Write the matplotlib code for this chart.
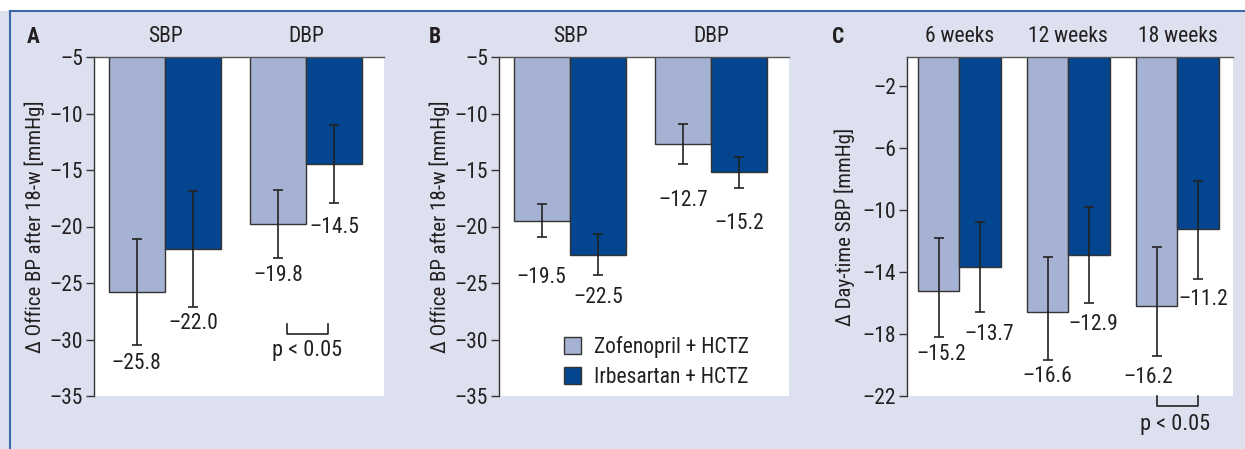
import numpy as np
import matplotlib
matplotlib.use('Agg')
import matplotlib.pyplot as plt
from matplotlib.lines import Line2D
from matplotlib.patches import Patch

plt.rcParams['font.family'] = ['Roboto Condensed', 'DejaVu Sans']

# panel A - office BP after 18 weeks
a_groups = ['SBP', 'DBP']
a_zof = [-25.8, -19.8]
a_irb = [-22.0, -14.5]
a_zof_err = [4.7, 3.0]
a_irb_err = [5.1, 3.45]

# panel B
b_groups = ['SBP', 'DBP']
b_zof = [-19.5, -12.7]
b_irb = [-22.5, -15.2]
b_zof_err = [1.45, 1.8]
b_irb_err = [1.8, 1.35]

# panel C - day-time SBP
c_groups = ['6 weeks', '12 weeks', '18 weeks']
c_zof = [-15.2, -16.6, -16.2]
c_irb = [-13.7, -12.9, -11.2]
c_zof_lo = [3.0, 3.05, 3.25]
c_zof_hi = [3.4, 3.6, 3.8]
c_irb_lo = [2.9, 3.1, 3.25]
c_irb_hi = [2.9, 3.1, 3.1]

series = ['Zofenopril + HCTZ', 'Irbesartan + HCTZ']

LIGHT = '#A6B2D4'
DARK = '#03468F'
BG = '#DDE1EF'
TXT = '#231F20'
FS = 15.5
MINUS = '\u2013'

fig = plt.figure(figsize=(12.45, 4.49), dpi=100)
fig.patch.set_facecolor(BG)
# white strip on top and the blue frame lines
fig.patches.append(plt.Rectangle((0, 449 - 11), 1245, 11, transform=None,
                                 facecolor='white', edgecolor='none', zorder=0))
fig.lines.append(Line2D([10, 1245], [449 - 11, 449 - 11], transform=None, color='#3A6AA8', lw=1.5))
fig.lines.append(Line2D([10, 10], [0, 449 - 11], transform=None, color='#3A6AA8', lw=1.5))


def px(x0, x1):
    return [x0 / 1245, 53 / 449, (x1 - x0) / 1245, 339 / 449]


def style(ax, ylim, ticks):
    ax.set_ylim(*ylim)
    ax.set_yticks(ticks)
    ax.set_yticklabels([(MINUS + '%g' % abs(t)) if t < 0 else '%g' % t for t in ticks])
    for s in ['right', 'bottom']:
        ax.spines[s].set_visible(False)
    ax.spines['left'].set_color('#333333')
    ax.spines['top'].set_color('#555555')
    ax.spines['left'].set_linewidth(1.0)
    ax.spines['top'].set_linewidth(1.0)
    ax.tick_params(axis='y', direction='out', length=6, width=1, color='#333333',
                   labelsize=FS, labelcolor=TXT, pad=2)
    ax.tick_params(axis='x', which='both', bottom=False, labelbottom=False)


def fmt(v):
    return MINUS + '%.1f' % abs(v)


def bars(ax, x, zof, irb, w, zerr, ierr):
    ax.bar(x - w / 2, zof, w, color=LIGHT, edgecolor='#333333', linewidth=1.0, zorder=2)
    ax.bar(x + w / 2, irb, w, color=DARK, edgecolor='#333333', linewidth=1.0, zorder=2)
    ekw = dict(fmt='none', ecolor='#222222', elinewidth=1.2, capsize=3.6, capthick=1.2, zorder=3)
    ax.errorbar(x - w / 2, zof, yerr=zerr, **ekw)
    ax.errorbar(x + w / 2, irb, yerr=ierr, **ekw)


# ---- A
axA = fig.add_axes(px(94, 384))
x = np.arange(len(a_groups))
w = 0.4
bars(axA, x, a_zof, a_irb, w, a_zof_err, a_irb_err)
axA.set_xlim(-0.503, 1.553)
style(axA, (-35, -5), [-5, -10, -15, -20, -25, -30, -35])
axA.set_ylabel('\u0394 Office BP after 18-w [mmHg]', fontsize=15, color=TXT, labelpad=3)
a_lab_y = [-32.1, -24.3, -28.6, -20.1]
for xi, v, ly in zip([x[0] - w / 2, x[1] - w / 2, x[0] + w / 2, x[1] + w / 2],
                     a_zof + a_irb, a_lab_y):
    axA.text(xi, ly, fmt(v), ha='center', va='center', fontsize=FS, color=TXT)
for xi, g in zip(x, a_groups):
    axA.text(xi, 1.06, g, transform=axA.get_xaxis_transform(), ha='center', va='center',
             fontsize=FS, color=TXT)
axA.text(-0.21, 1.06, 'A', transform=axA.transAxes, ha='center', va='center',
         fontsize=FS, fontweight='bold', color=TXT)
axA.plot([x[1] - 0.135, x[1] - 0.135, x[1] + 0.155, x[1] + 0.155],
         [-28.6, -29.5, -29.5, -28.6], color='#222222', lw=1.2, zorder=3)
axA.text(x[1] + 0.01, -31.0, 'p < 0.05', ha='center', va='center', fontsize=16, color=TXT)

# ---- B
axB = fig.add_axes(px(499, 789))
x = np.arange(len(b_groups))
bars(axB, x, b_zof, b_irb, w, b_zof_err, b_irb_err)
axB.set_xlim(-0.503, 1.553)
style(axB, (-35, -5), [-5, -10, -15, -20, -25, -30, -35])
axB.set_ylabel('\u0394 Office BP after 18-w [mmHg]', fontsize=15, color=TXT, labelpad=3)
b_lab_y = [-24.5, -17.7, -26.3, -19.7]
for xi, v, ly in zip([x[0] - w / 2, x[1] - w / 2, x[0] + w / 2, x[1] + w / 2],
                     b_zof + b_irb, b_lab_y):
    axB.text(xi, ly, fmt(v), ha='center', va='center', fontsize=FS, color=TXT)
for xi, g in zip(x, b_groups):
    axB.text(xi, 1.06, g, transform=axB.get_xaxis_transform(), ha='center', va='center',
             fontsize=FS, color=TXT)
axB.text(-0.22, 1.06, 'B', transform=axB.transAxes, ha='center', va='center',
         fontsize=FS, fontweight='bold', color=TXT)
handles = [Patch(facecolor=LIGHT, edgecolor='#333333', linewidth=1.0),
           Patch(facecolor=DARK, edgecolor='#333333', linewidth=1.0)]
axB.legend(handles, series, loc='center left',
           bbox_to_anchor=(0.186, 0.10), frameon=False,
           fontsize=FS, handlelength=0.8, handleheight=0.85, handletextpad=0.6,
           labelspacing=0.4, borderpad=0, labelcolor=TXT)

# ---- C
axC = fig.add_axes(px(907, 1233))
x = np.arange(len(c_groups))
wc = 0.38
bars(axC, x, c_zof, c_irb, wc, [c_zof_lo, c_zof_hi], [c_irb_lo, c_irb_hi])
axC.set_xlim(-0.48, 2.51)
style(axC, (-22, -0.12), [-2, -6, -10, -14, -18, -22])
axC.set_ylabel('\u0394 Day-time SBP [mmHg]', fontsize=15, color=TXT, labelpad=5)
c_lab_x = [0.02, 0.0, -0.08, 0.08, 0.04, 0.05]
c_lab_y = [-19.33, -20.73, -20.8, -18.03, -17.39, -15.77]
pos = list(x - wc / 2) + list(x + wc / 2)
for xi, dx, v, ly in zip(pos, c_lab_x, c_zof + c_irb, c_lab_y):
    axC.text(xi + dx, ly, fmt(v), ha='center', va='center', fontsize=FS, color=TXT)
for xi, g in zip(x, c_groups):
    axC.text(xi, 1.06, g, transform=axC.get_xaxis_transform(), ha='center', va='center',
             fontsize=FS, color=TXT)
axC.text(-0.21, 1.06, 'C', transform=axC.transAxes, ha='center', va='center',
         fontsize=FS, fontweight='bold', color=TXT)
axC.plot([x[2] - wc / 2, x[2] - wc / 2, x[2] + wc / 2, x[2] + wc / 2],
         [-22.0, -22.65, -22.65, -22.0], color='#222222', lw=1.2, clip_on=False, zorder=3)
axC.text(x[2] - 0.02, -23.85, 'p < 0.05', ha='center', va='center', fontsize=16, color=TXT,
         clip_on=False)

fig.savefig('out.png', dpi=100, facecolor=BG)
